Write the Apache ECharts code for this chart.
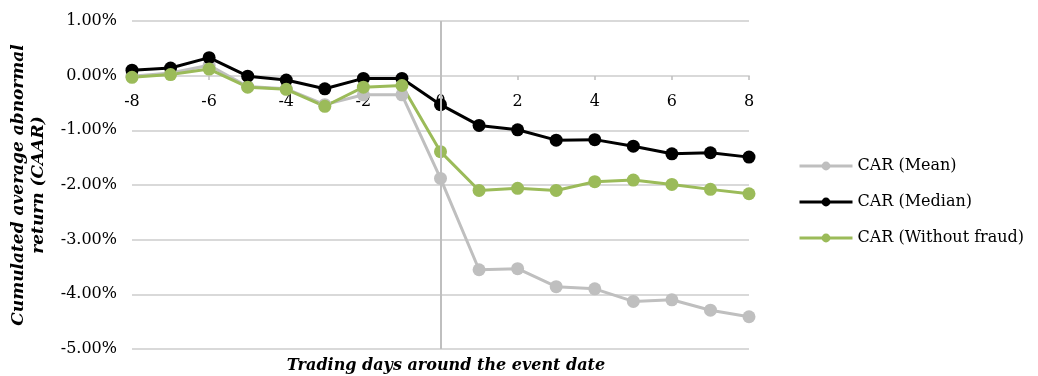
<!DOCTYPE html>
<html>
<head>
<meta charset="utf-8">
<script src="https://cdn.jsdelivr.net/npm/echarts@6/dist/echarts.min.js"></script>
<style>
  html, body { margin: 0; padding: 0; background: #fff; }
  #chart { width: 1038px; height: 376px; }
</style>
</head>
<body>
<div id="chart"></div>
<script>
// event days
const days = [-8, -7, -6, -5, -4, -3, -2, -1, 0, 1, 2, 3, 4, 5, 6, 7, 8];

// CAR values in percent
const carMean = [-0.01, 0.05, 0.19, -0.20, -0.24, -0.53, -0.35, -0.35, -1.88, -3.55, -3.53, -3.86, -3.90, -4.13, -4.10, -4.29, -4.41];
const carMedian = [0.10, 0.14, 0.33, -0.01, -0.08, -0.24, -0.05, -0.05, -0.53, -0.91, -0.99, -1.18, -1.17, -1.29, -1.43, -1.41, -1.49];
const carNoFraud = [-0.03, 0.02, 0.12, -0.21, -0.25, -0.56, -0.21, -0.18, -1.39, -2.10, -2.06, -2.10, -1.94, -1.91, -1.99, -2.08, -2.16];

const seriesNames = ["CAR (Mean)", "CAR (Median)", "CAR (Without fraud)"];
const seriesColors = ["#bfbfbf", "#000000", "#9bbb59"];

const font = "DejaVu Serif";

const chart = echarts.init(document.getElementById("chart"));

const makeSeries = (name, values, color, extra) => ({
  name: name,
  type: "line",
  data: days.map((d, i) => [d, values[i]]),
  symbol: "circle",
  symbolSize: 13,
  lineStyle: { color: color, width: 3 },
  itemStyle: { color: color },
  ...extra,
});

const option = {
  animation: false,
  title: {
    text: "Trading days around the event date",
    left: 441,
    textAlign: "center",
    top: 353,
    textStyle: {
      fontFamily: font,
      fontSize: 16,
      fontStyle: "italic",
      fontWeight: "bold",
      color: "#000",
    },
  },
  grid: { left: 132, right: 289, top: 21, bottom: 27, outerBoundsMode: "none" },
  legend: {
    orient: "vertical",
    left: 793,
    top: 153,
    itemWidth: 53,
    itemHeight: 11,
    itemGap: 20,
    lineStyle: { width: 3 },
    textStyle: { fontFamily: font, fontSize: 16, color: "#000" },
    data: seriesNames,
  },
  xAxis: {
    type: "value",
    min: -8,
    max: 8,
    interval: 2,
    // axis sits on the 0% line (grid height 328, zero at 1/6 from top)
    offset: -273,
    axisLine: { onZero: false, lineStyle: { color: "#d9d9d9", width: 2 } },
    axisTick: { show: true, length: 4, lineStyle: { color: "#bfbfbf", width: 1.5 } },
    axisLabel: { margin: 18, fontFamily: font, fontSize: 16, color: "#000" },
    splitLine: { show: false },
  },
  yAxis: {
    type: "value",
    min: -5,
    max: 1,
    interval: 1,
    name: "Cumulated average abnormal\nreturn (CAAR)",
    nameLocation: "middle",
    nameGap: 83,
    nameTextStyle: {
      fontFamily: font,
      fontSize: 17,
      fontStyle: "italic",
      fontWeight: "bold",
      color: "#000",
      lineHeight: 20,
    },
    axisLine: { show: false },
    axisTick: { show: false },
    axisLabel: {
      margin: 15,
      fontFamily: font,
      fontSize: 16,
      color: "#000",
      formatter: (v) => v.toFixed(2) + "%",
    },
    splitLine: { lineStyle: { color: "#d9d9d9", width: 2 } },
  },
  series: [
    makeSeries(seriesNames[0], carMean, seriesColors[0], {
      markLine: {
        silent: true,
        symbol: "none",
        label: { show: false },
        lineStyle: { color: "#bfbfbf", width: 2, type: "solid" },
        data: [{ xAxis: 0 }],
      },
    }),
    makeSeries(seriesNames[1], carMedian, seriesColors[1]),
    makeSeries(seriesNames[2], carNoFraud, seriesColors[2]),
  ],
};

chart.setOption(option);
</script>
</body>
</html>
